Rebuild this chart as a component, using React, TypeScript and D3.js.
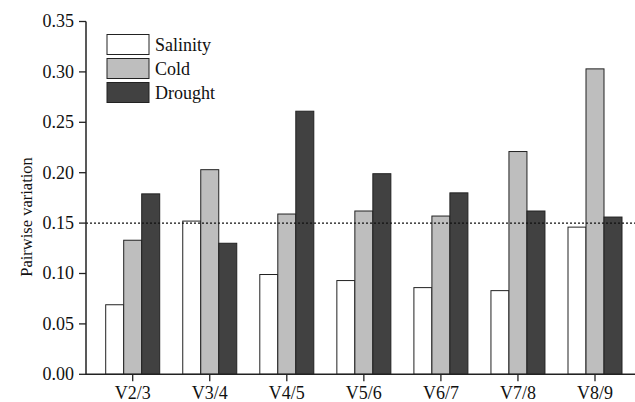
import React from "react";
import * as d3 from "d3";

const categories = ["V2/3", "V3/4", "V4/5", "V5/6", "V6/7", "V7/8", "V8/9"];
const seriesNames = ["Salinity", "Cold", "Drought"];
const salinity = [0.069, 0.152, 0.099, 0.093, 0.086, 0.083, 0.146];
const cold = [0.133, 0.203, 0.159, 0.162, 0.157, 0.221, 0.303];
const drought = [0.179, 0.130, 0.261, 0.199, 0.180, 0.162, 0.156];
const yTicks = [0, 0.05, 0.1, 0.15, 0.2, 0.25, 0.3, 0.35];
const threshold = 0.15;
const colors = ["#ffffff", "#bebebe", "#414141"];

const W = 635;
const H = 402;
const TS: React.CSSProperties = { fontFamily: "Liberation Serif" };

export default function App() {
  const series = [salinity, cold, drought];
  const x0 = 86;
  const xRight = 635;
  const y = d3.scaleLinear().domain([0, 0.35]).range([374.3, 21.5]);
  const x = d3.scalePoint<string>().domain(categories).range([132.7, 595]);
  const barW = 18;
  const sub = d3
    .scaleBand<string>()
    .domain(seriesNames)
    .range([-barW * 1.5, barW * 1.5]);

  return (
    <div style={{ position: "absolute", left: 0, top: 0 }}>
      <svg width={W} height={H} style={{ display: "block", background: "#fff" }}>
        {/* bars */}
        {categories.map((c, i) => (
          <g key={c}>
            {series.map((s, j) => (
              <rect
                key={j}
                x={(x(c) as number) + (sub(seriesNames[j]) as number)}
                y={y(s[i])}
                width={sub.bandwidth()}
                height={y(0) - y(s[i])}
                fill={colors[j]}
                stroke="#222"
                strokeWidth={1}
              />
            ))}
          </g>
        ))}
        {/* threshold line */}
        <line
          x1={x0}
          x2={xRight}
          y1={y(threshold)}
          y2={y(threshold)}
          stroke="#111"
          strokeWidth={1.2}
          strokeDasharray="2,2"
        />
        {/* y axis */}
        <line x1={x0} x2={x0} y1={y(0.35)} y2={y(0) + 0.75} stroke="#222" strokeWidth={1.5} />
        {yTicks.map((t) => (
          <g key={t}>
            <line x1={x0 - 7} x2={x0} y1={y(t)} y2={y(t)} stroke="#222" strokeWidth={1.3} />
            <text x={x0 - 12} y={y(t)} dy="0.33em" textAnchor="end" fontSize={18} fill="#111" style={TS}>
              {d3.format(".2f")(t)}
            </text>
          </g>
        ))}
        {/* x axis */}
        <line x1={x0} x2={xRight} y1={y(0)} y2={y(0)} stroke="#222" strokeWidth={1.5} />
        {categories.map((c) => (
          <g key={c}>
            <line x1={x(c)} x2={x(c)} y1={y(0)} y2={y(0) + 7} stroke="#222" strokeWidth={1.3} />
            <text x={x(c)} y={399} textAnchor="middle" fontSize={18} fill="#111" style={TS}>
              {c}
            </text>
          </g>
        ))}
        {/* y title */}
        <text
          transform={`translate(32, 217) rotate(-90)`}
          textAnchor="middle"
          fontSize={16.5}
          fill="#111"
          style={TS}
        >
          Pairwise variation
        </text>
        {/* legend */}
        {seriesNames.map((n, j) => (
          <g key={n} transform={`translate(107, ${34.5 + j * 24})`}>
            <rect width={42} height={20} fill={colors[j]} stroke="#222" strokeWidth={1} />
            <text x={48} y={10} dy="0.35em" fontSize={18} fill="#111" style={TS}>
              {n}
            </text>
          </g>
        ))}
      </svg>
    </div>
  );
}
